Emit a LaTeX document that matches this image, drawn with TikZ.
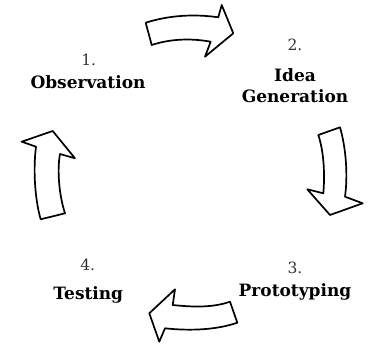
\documentclass[tikz,border=0pt]{standalone}
\usepackage{fontspec}
\setmainfont{DejaVu Serif}

\begin{document}
\begin{tikzpicture}[x=1pt, y=-1pt]
\tikzset{ bigarrow/.style={draw=black, line width=1.7pt, line join=round, fill=white},
          num/.style={anchor=base, inner sep=0pt, font=\fontsize{15.5}{18}\selectfont, text=black!80},
          stage/.style={anchor=base, inner sep=0pt, font=\fontsize{17}{20}\selectfont\bfseries}, }
\useasboundingbox (0,0) rectangle (370,345);

% labels
\node [num]   (N1) at (88.7,65.7)  {1.};
\node [stage] (S1) at (88.0,89.0)  {Observation};

\node [num]   (N2) at (295,50.7)   {2.};
\node [stage] (S2a) at (295,81.7)  {Idea};
\node [stage] (S2b) at (295,102.7) {Generation};

\node [num]   (N3) at (295,273.3)  {3.};
\node [stage] (S3) at (295,296.7)  {Prototyping};

\node [num]   (N4) at (87.7,270.7) {4.};
\node [stage] (S4) at (88.3,299.3) {Testing};

% arrows
\draw [bigarrow] (145.7,22.7) .. controls (170,15) and (195,14) .. (218.3,17.3)
   -- (221.7,5) -- (233.3,33.3) -- (205,56.7) -- (210.7,41.7)
   .. controls (190,38) and (170,39) .. (151.7,45) -- cycle;

\draw [bigarrow] (318.3,135) .. controls (324,152) and (325,175) .. (323.3,193.3)
   -- (307.3,189.3) -- (330,215) -- (362.7,203.3) -- (345,196.7)
   .. controls (348,175) and (346,148) .. (340,127.3) -- cycle;

\draw [bigarrow] (230,301.7) .. controls (212,308) and (192,307) .. (172.7,305)
   -- (175,289.3) -- (149.3,313.3) -- (159.3,341.7) -- (165,328.3)
   .. controls (190,331) and (216,330) .. (237.3,322.7) -- cycle;

\draw [bigarrow] (40.7,219.3) .. controls (35,200) and (33,170) .. (36,146.7)
   -- (21.7,141.7) -- (52.7,131) -- (75,158.3) -- (60,154)
   .. controls (57,170) and (59,195) .. (65,213.3) -- cycle;

\end{tikzpicture}
\end{document}
